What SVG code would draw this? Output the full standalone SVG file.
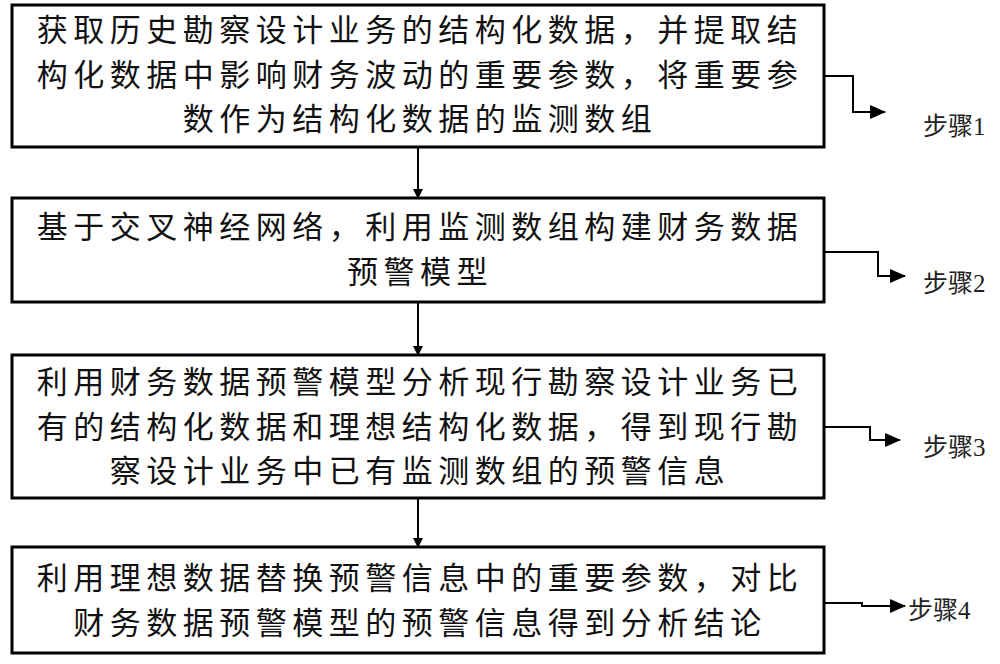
<svg xmlns="http://www.w3.org/2000/svg" width="1000" height="664" viewBox="0 0 1000 664">
<style>
.box{fill:#fff;stroke:#000;stroke-width:3}
.t{font-family:"Noto Sans CJK SC","Liberation Serif",serif;font-size:31px;letter-spacing:5.5px;text-anchor:middle;fill:#111}
.s{font-family:"Liberation Serif","Noto Sans CJK SC",serif;font-size:25px;fill:#222}
.c{fill:none;stroke:#000;stroke-width:2}
</style>
<defs><marker id="a" markerWidth="10" markerHeight="10" refX="9" refY="5" orient="auto" markerUnits="userSpaceOnUse"><path d="M0,0L10,5L0,10z" fill="#000"/></marker>
<marker id="b" markerWidth="16" markerHeight="14" refX="15" refY="7" orient="auto" markerUnits="userSpaceOnUse"><path d="M0,0L16,7L0,14z" fill="#000"/></marker></defs>
<rect width="1000" height="664" fill="#fff"/>
<g id="n1"><rect class="box" x="12" y="5" width="812" height="142"/>
<text class="t" x="420" y="41">获取历史勘察设计业务的结构化数据，并提取结</text>
<text class="t" x="420" y="86">构化数据中影响财务波动的重要参数，将重要参</text>
<text class="t" x="420" y="130">数作为结构化数据的监测数组</text></g>
<g id="n2"><rect class="box" x="12" y="198" width="812" height="104"/>
<text class="t" x="420" y="238">基于交叉神经网络，利用监测数组构建财务数据</text>
<text class="t" x="420" y="283">预警模型</text></g>
<g id="n3"><rect class="box" x="12" y="355" width="812" height="143"/>
<text class="t" x="420" y="393">利用财务数据预警模型分析现行勘察设计业务已</text>
<text class="t" x="420" y="438">有的结构化数据和理想结构化数据，得到现行勘</text>
<text class="t" x="420" y="482">察设计业务中已有监测数组的预警信息</text></g>
<g id="n4"><rect class="box" x="12" y="547" width="812" height="106"/>
<text class="t" x="420" y="589">利用理想数据替换预警信息中的重要参数，对比</text>
<text class="t" x="420" y="634">财务数据预警模型的预警信息得到分析结论</text></g>
<g id="labels">
<text class="s" x="923" y="135">步骤1</text>
<text class="s" x="923" y="292">步骤2</text>
<text class="s" x="923" y="456">步骤3</text>
<text class="s" x="908" y="619">步骤4</text></g>
<g id="connectors">
<path class="c" d="M418,147V198" marker-end="url(#a)"/>
<path class="c" d="M418,302V355" marker-end="url(#a)"/>
<path class="c" d="M418,498V547" marker-end="url(#a)"/>
<path class="c" d="M824,76H853V112H885" marker-end="url(#b)"/>
<path class="c" d="M824,252H878V276H905" marker-end="url(#b)"/>
<path class="c" d="M824,427H870V440H900" marker-end="url(#b)"/>
<path class="c" d="M824,603H862V606H905" marker-end="url(#b)"/>
</g>
</svg>
